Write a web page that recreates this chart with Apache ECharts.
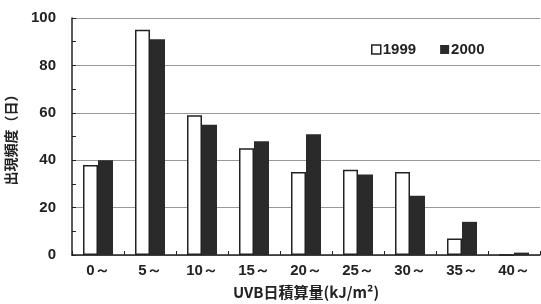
<!DOCTYPE html>
<html>
<head>
<meta charset="utf-8">
<script src="https://cdn.jsdelivr.net/npm/echarts@6/dist/echarts.min.js"></script>
<style>
  html, body { margin: 0; padding: 0; background: #fff; }
  #chart { width: 541px; height: 304px; }
</style>
</head>
<body>
<div id="chart"></div>
<script>
// UVB日積算量の階級
const categories = ['0～', '5～', '10～', '15～', '20～', '25～', '30～', '35～', '40～'];
// 出現頻度（日）
const values1999 = [38, 95, 59, 45, 35, 36, 35, 7, 0];
const values2000 = [40, 91, 55, 48, 51, 34, 25, 14, 1];

const labelFont = {
  fontFamily: '"Liberation Sans", Arial, sans-serif',
  fontWeight: 'bold',
  fontSize: 15,
  color: '#222'
};

let myChart = echarts.init(document.getElementById('chart'), null, { renderer: 'canvas' });
var option = {
  animation: false,
  grid: { left: 72, top: 18, right: 1, bottom: 49, outerBoundsMode: 'none' },
  legend: {
    left: 366,
    top: 37,
    itemWidth: 9,
    itemHeight: 9,
    itemGap: 24,
    textStyle: Object.assign({}, labelFont, { padding: [0, 0, 0, -3] }),
    data: [
      { name: '1999', icon: 'rect', itemStyle: { color: '#fff', borderColor: '#222', borderWidth: 1.5 } },
      { name: '2000', icon: 'rect', itemStyle: { color: '#2a2a2a' } }
    ]
  },
  xAxis: {
    type: 'category',
    data: categories,
    name: 'UVB日積算量(kJ/m²)',
    nameLocation: 'middle',
    nameGap: 30,
    nameTextStyle: {
      fontFamily: '"Noto Sans CJK JP", sans-serif',
      fontSize: 15,
      fontWeight: 'bold',
      color: '#222'
    },
    axisLine: { lineStyle: { color: '#222', width: 1.5 } },
    axisTick: { show: true, inside: true, length: 4, interval: 0, lineStyle: { color: '#222' } },
    axisLabel: Object.assign({}, labelFont, { margin: 8, interval: 0 }),
    splitLine: { show: false }
  },
  yAxis: {
    type: 'value',
    min: 0,
    max: 100,
    interval: 20,
    name: '出現頻度（日）',
    nameLocation: 'middle',
    nameGap: 54,
    nameRotate: 90,
    nameTextStyle: {
      fontFamily: '"Noto Sans CJK JP", sans-serif',
      fontSize: 14,
      fontWeight: 'bold',
      color: '#222'
    },
    axisLine: { show: true, lineStyle: { color: '#222', width: 1.5 } },
    axisTick: { show: true, inside: true, length: 4, lineStyle: { color: '#222' } },
    minorTick: { show: true, splitNumber: 2, length: 4, lineStyle: { color: '#222' } },
    axisLabel: Object.assign({}, labelFont, { margin: 16 }),
    splitLine: { show: true, lineStyle: { color: '#999', width: 1 } }
  },
  series: [
    {
      name: '1999',
      type: 'bar',
      data: values1999,
      barWidth: 15,
      barGap: '0%',
      itemStyle: { color: '#fff', borderColor: '#222', borderWidth: 1.5 }
    },
    {
      name: '2000',
      type: 'bar',
      data: values2000,
      barWidth: 15,
      barGap: '0%',
      itemStyle: { color: '#2a2a2a' }
    }
  ]
};
option && myChart.setOption(option);
</script>
</body>
</html>
